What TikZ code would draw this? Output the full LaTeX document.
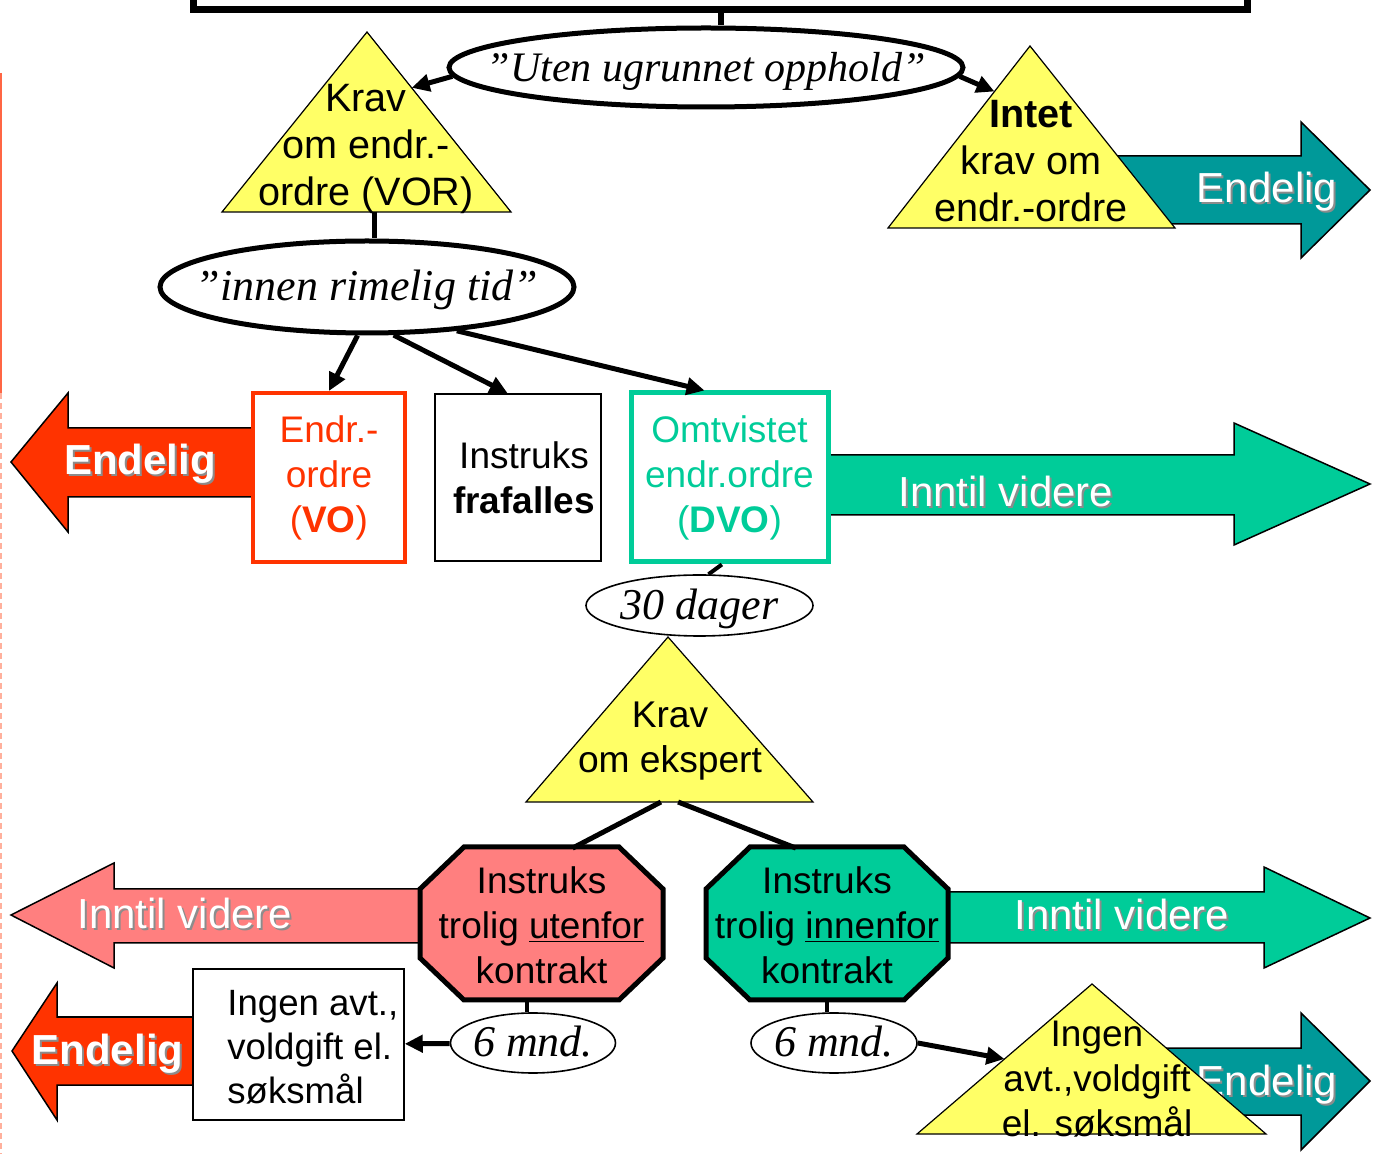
\documentclass[tikz,border=0pt]{standalone}
\usepackage{fontspec}
\setmainfont{Liberation Sans}
\newfontfamily\handfont{Liberation Serif}
\usetikzlibrary{calc,arrows.meta,shapes.geometric}
\definecolor{triyellow}{HTML}{FFFF66}
\definecolor{tealdark}{HTML}{009999}
\definecolor{vored}{HTML}{FF3300}
\definecolor{dvogreen}{HTML}{00CC99}
\definecolor{pinkred}{HTML}{FF7F7F}
\definecolor{edgeline}{HTML}{FF6644}
\definecolor{edgedash}{HTML}{FFB09C}
\newcommand{\fsz}[2]{\fontsize{#1}{#2}\selectfont}
\newcommand{\shtxt}[1]{\makebox[0pt][l]{\hspace{1pt}\raisebox{-1pt}{\textcolor{black!45}{#1}}}#1}
\tikzset{
  tri/.style={draw=black, line width=0.6pt, fill=triyellow, line join=miter},
  octo/.style={draw=black, line width=2.5pt, line join=miter},
  bigarrow/.style={draw=black, line width=0.75pt, line join=miter},
  arrlabel/.style={text=white, font=\fsz{21}{25}, inner sep=0pt},
  txt/.style={align=center, font=\fsz{18.5}{22.5}, inner sep=0pt},
  tritxt/.style={align=center, font=\fsz{19.8}{23.5}, inner sep=0pt},
  box/.style={draw=black, line width=0.75pt, fill=white, inner sep=0pt},
  hand/.style={ellipse, draw=black, fill=white, inner sep=0pt, text height=17pt, text depth=3pt,
    font=\handfont\itshape\fsz{22}{26}},
  arr/.style={-{Triangle[length=9pt,width=8.5pt]}, line width=2.5pt},
  link/.style={line width=2.5pt}
}

\begin{document}
\begin{tikzpicture}[x=0.5pt, y=-0.5pt]
  \useasboundingbox (0,0) rectangle (1383,1154);
  % left margin line
  \draw[edgeline, line width=1pt] (1,73) -- (1,393);
  \draw[edgedash, line width=1pt, dash pattern=on 3pt off 2pt] (1,393) -- (1,1154);

  \node[draw, line width=3.5pt, minimum width=527pt, minimum height=100pt] (rule) at (720.5,-90) {};

  % big arrows
  \draw[bigarrow, fill=tealdark] (1110,156) -- (1301,156) -- (1301,122) -- (1370,190) -- (1301,258) -- (1301,224) -- (1110,224) -- cycle;
  \node[arrlabel] (endA) at (1267,193) {\shtxt{Endelig}};
  \draw[bigarrow, fill=vored] (260,428) -- (68,428) -- (68,393) -- (11,462) -- (68,532) -- (68,497) -- (260,497) -- cycle;
  \node[arrlabel, font=\fsz{21}{25}\bfseries] (endB) at (140,465) {\shtxt{Endelig}};
  \draw[bigarrow, fill=dvogreen] (820,455) -- (1234,455) -- (1234,423) -- (1370,484) -- (1234,545) -- (1234,515) -- (820,515) -- cycle;
  \node[arrlabel] (videreA) at (1006,492) {\shtxt{Inntil videre}};
  \draw[bigarrow, fill=pinkred] (440,889) -- (114,889) -- (114,863) -- (11,915) -- (114,968) -- (114,943) -- (440,943) -- cycle;
  \node[arrlabel] (videreB) at (185,914) {\shtxt{Inntil videre}};
  \draw[bigarrow, fill=dvogreen] (930,892) -- (1264,892) -- (1264,867) -- (1370,918) -- (1264,968) -- (1264,943) -- (930,943) -- cycle;
  \node[arrlabel] (videreC) at (1122,915) {\shtxt{Inntil videre}};
  \draw[bigarrow, fill=vored] (200,1017) -- (57,1017) -- (57,983) -- (12,1051) -- (57,1120) -- (57,1085) -- (200,1085) -- cycle;
  \node[arrlabel, font=\fsz{21}{25}\bfseries] (endC) at (107.5,1055) {\shtxt{Endelig}};
  \draw[bigarrow, fill=tealdark] (1100,1048) -- (1301,1048) -- (1301,1013) -- (1370,1081) -- (1301,1150) -- (1301,1115) -- (1100,1115) -- cycle;
  \node[arrlabel] (endD) at (1267,1086) {\shtxt{Endelig}};

  % triangles
  \coordinate (vorA) at (367,32);   \coordinate (vorL) at (222,212);  \coordinate (vorR) at (511,212);
  \coordinate (intA) at (1030,46);  \coordinate (intL) at (888,228);  \coordinate (intR) at (1175,228);
  \coordinate (ekA) at (668,637);   \coordinate (ekL) at (526,802);   \coordinate (ekR) at (813,802);
  \coordinate (btA) at (1092,984);  \coordinate (btL) at (917,1134);  \coordinate (btR) at (1266,1134);
  \draw[tri] (vorA) -- (vorR) -- (vorL) -- cycle;
  \draw[tri] (intA) -- (intR) -- (intL) -- cycle;
  \draw[tri] (ekA) -- (ekR) -- (ekL) -- cycle;
  \draw[tri] (btA) -- (btR) -- (btL) -- cycle;
  \node[tritxt] (vortxt) at (366,149) {Krav\\om endr.-\\ordre (VOR)};
  \node[tritxt] (inttxt) at (1031,161) {\textbf{Intet}\\krav om\\endr.-ordre};
  \node[txt, font=\fsz{18.6}{22.5}] (ektxt) at (670,741) {Krav\\om ekspert};
  \node[txt] (bttxt) at (1097,1079) {Ingen\\avt.,voldgift\\el. søksmål};

  % ellipses
  \node[hand, line width=2.5pt, minimum width=257pt, minimum height=39.5pt, font=\handfont\itshape\fsz{21}{25}] (uten) at (706,67.5) {\makebox[0pt]{”Uten ugrunnet opphold”}};
  \node[hand, line width=2.5pt, minimum width=207pt, minimum height=46pt] (innen) at (367,287) {\makebox[0pt]{”innen rimelig tid”}};
  \node[hand, line width=0.8pt, minimum width=113.5pt, minimum height=30.5pt] (dager) at (699.5,605.5) {\makebox[0pt]{30 dager}};
  \node[hand, line width=0.8pt, minimum width=82.5pt, minimum height=30pt] (mndL) at (533,1043) {\makebox[0pt]{6 mnd.}};
  \node[hand, line width=0.8pt, minimum width=83pt, minimum height=30pt] (mndR) at (834,1043) {\makebox[0pt]{6 mnd.}};

  % boxes
  \node[box, txt, draw=vored, line width=2pt, text=vored, minimum width=76pt, minimum height=84.5pt] (vo) at (329,477.5) {Endr.-\\ordre\\(\textbf{VO})};
  \node[box, txt, minimum width=83pt, minimum height=83.5pt] (ins) at (518,477.5) {\hspace*{6pt}Instruks\\\hspace*{6pt}\textbf{frafalles}};
  \node[box, txt, draw=dvogreen, line width=2.5pt, text=dvogreen, minimum width=98.5pt, minimum height=84.5pt] (dvo) at (729.5,477.5) {Omtvistet\\endr.ordre\\(\textbf{DVO})};
  \node[box, minimum width=105.5pt, minimum height=75.5pt] (ingen) at (298.5,1044.5) {};
  \node[txt, align=left, anchor=west, font=\fsz{18.3}{22}] (ingentxt) at (227,1047) {Ingen avt.,\\voldgift el.\\søksmål};

  % octagons
  \draw[octo, fill=pinkred] (464,847) -- (619,847) -- (663,889) -- (663,958) -- (619,1000) -- (464,1000) -- (420,958) -- (420,889) -- cycle;
  \draw[octo, fill=dvogreen] (750,847) -- (904,847) -- (948,889) -- (948,958) -- (904,1000) -- (750,1000) -- (706,958) -- (706,889) -- cycle;
  \node[txt, minimum width=121.5pt, minimum height=76.5pt] (octL) at (541.5,925) {Instruks\\trolig \underline{utenfor}\\kontrakt};
  \node[txt, minimum width=121pt, minimum height=76.5pt] (octR) at (827,925) {Instruks\\trolig \underline{innenfor}\\kontrakt};

  % connectors
  \coordinate (vorIn) at ($(vorA)!0.31!(vorR)$);
  \coordinate (intIn) at ($(intA)!0.25!(intL)$);
  \coordinate (vorM) at ($(vorL)!0.526!(vorR)$);
  \coordinate (ekM1) at ($(ekL)!0.47!(ekR)$);
  \coordinate (ekM2) at ($(ekL)!0.53!(ekR)$);
  \coordinate (btIn) at ($(btA)!0.5!(btL)$);
  \draw[link, line width=3pt] (rule.south) -- (rule.south |- uten.north);
  \draw[arr] (uten.182) -- (vorIn);
  \draw[arr] (uten.358) -- (intIn);
  \draw[link] (vorM) -- (vorM |- innen.north);
  \draw[arr] (innen.259) -- (vo.north);
  \draw[arr] (innen.299) -- (ins.97);
  \draw[arr] (innen.334) -- (dvo.106);
  \draw[link, line width=2pt] (dvo.265) -- (dager.74);
  \draw[link] (ekM1) -- (octL.68);
  \draw[link] (ekM2) -- (octR.112);
  \draw[link, line width=2pt] (octL.259) -- (octL.259 |- mndL.north);
  \draw[link, line width=2pt] (octR.south) -- (octR.south |- mndR.north);
  \draw[arr] (mndL) -- (ingen);
  \draw[arr] (mndR.east) -- (btIn);
\end{tikzpicture}
\end{document}
